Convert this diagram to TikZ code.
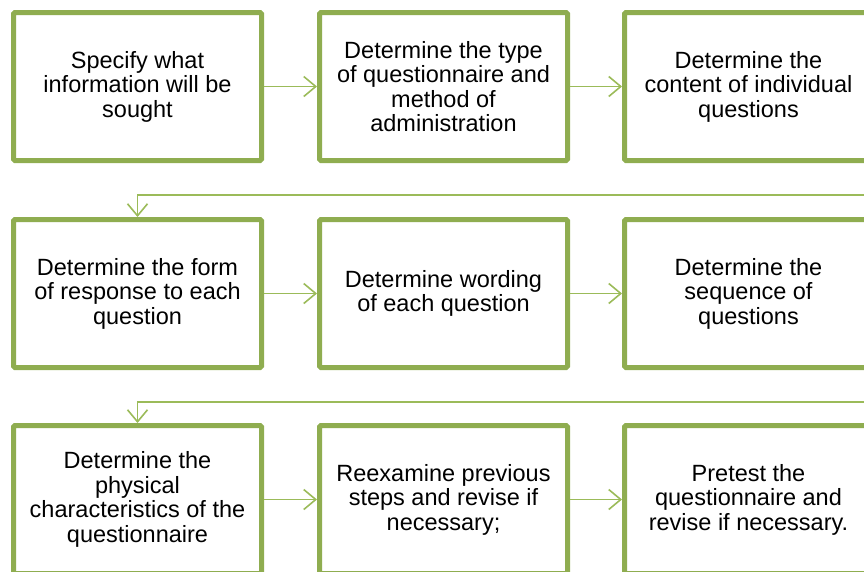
\documentclass[tikz,border=0pt]{standalone}
\usepackage{fontspec}
\setmainfont{Liberation Sans}
\usetikzlibrary{arrows.meta}
\definecolor{boxgreen}{HTML}{8FAD50}
\definecolor{linkgreen}{HTML}{9BBB59}
\tikzset{
    stepbox/.style={draw=boxgreen, line width=5pt, fill=white, rounded corners=1.5pt,
        minimum width=248pt, minimum height=148pt, align=center, text=black,
        font=\fontsize{23.5}{24.5}\selectfont},
    link/.style={draw=linkgreen, line width=1.6pt,
        -{Straight Barb[length=12pt,width=20pt,line width=1.6pt]}}
}
\begin{document}
\begin{tikzpicture}[x=1pt,y=-1pt]
        \useasboundingbox (0,0) rectangle (864,571);
        \clip (0,0) rectangle (864,571);
        % Questionnaire design steps
        \foreach \name/\x/\y/\txt in {
            b1/137.5/86.5/{Specify what\\information will be\\sought},
            b2/443.5/86.5/{Determine the type\\of questionnaire and\\method of\\administration},
            b3/748.5/86.5/{Determine the\\content of individual\\questions},
            b4/137.5/293.5/{Determine the form\\of response to each\\question},
            b5/443.5/293.5/{Determine wording\\of each question},
            b6/748.5/293.5/{Determine the\\sequence of\\questions},
            b7/137.5/499.5/{Determine the\\physical\\characteristics of the\\questionnaire},
            b8/443.5/499.5/{Reexamine previous\\steps and revise if\\necessary;},
            b9/748.5/499.5/{Pretest the\\questionnaire and\\revise if necessary.}}
        {
            \node[stepbox] (\name) at (\x,\y) {\txt};
        }
        \foreach \a/\b in {b1/b2,b2/b3,b4/b5,b5/b6,b7/b8,b8/b9}
            \draw[link] (\a) -- (\b);
        % row changes
        \coordinate (turn1) at (0,195);
        \coordinate (turn2) at (0,402);
        \draw[link] (b3.east) -- ++(12,0) |- (b4.north |- turn1) -- (b4.north);
        \draw[link] (b6.east) -- ++(12,0) |- (b7.north |- turn2) -- (b7.north);
    \end{tikzpicture}
\end{document}
